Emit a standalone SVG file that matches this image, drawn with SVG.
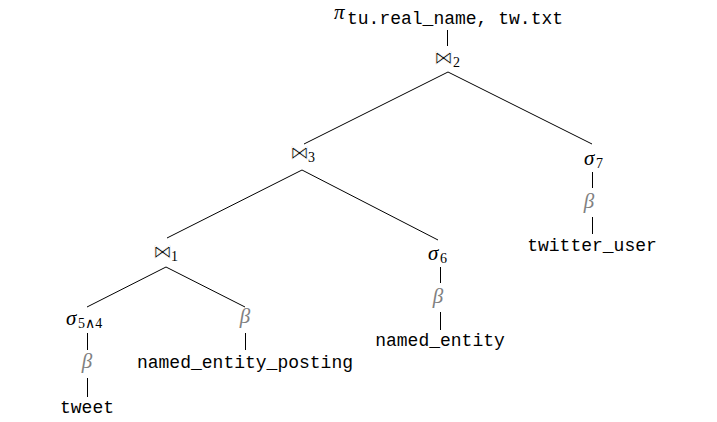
<svg xmlns="http://www.w3.org/2000/svg" width="717" height="422" viewBox="0 0 717 422">
  <style>
    .edge { stroke: #000; stroke-width: 1; fill: none; }
    .tt { font-family: "Liberation Mono", "DejaVu Sans Mono", monospace; font-size: 18px; fill: #000; }
    .op { font-family: "Liberation Serif", "DejaVu Serif", serif; font-style: italic; font-size: 21px; fill: #000; }
    .sub { font-family: "Liberation Serif", "DejaVu Serif", serif; font-size: 14px; fill: #000; }
    /* thin the bowtie glyph a little with a white outline over its fill */
    .join { font-family: "DejaVu Sans", sans-serif; font-size: 19px; fill: #000; stroke: #fff; stroke-width: 0.6px; paint-order: fill stroke; }
    .scan { font-family: "Liberation Serif", "DejaVu Serif", serif; font-style: italic; font-size: 21px; fill: #808080; }
  </style>
  <rect width="717" height="422" fill="#fff"/>

  <!-- tree edges -->
  <g id="connectors" class="edge">
    <path d="M447.5 30 V46"/>
    <path d="M448 72 L304 144"/>
    <path d="M448 72 L592 144"/>
    <path d="M302 170 L167 238"/>
    <path d="M302 170 L438 240"/>
    <path d="M166 267 L87 307"/>
    <path d="M166 267 L245 307"/>
    <path d="M592.5 172 V188"/>
    <path d="M592.5 217 V234"/>
    <path d="M440.5 267 V283"/>
    <path d="M440.5 312 V330"/>
    <path d="M87.5 333 V350"/>
    <path d="M87.5 378 V397"/>
    <path d="M245.5 333 V350"/>
  </g>

  <!-- projection -->
  <g id="projection">
    <text class="op" x="334" y="19" font-size="19">π</text>
    <text class="tt" x="347" y="24">tu.real_name, tw.txt</text>
  </g>

  <!-- joins -->
  <g id="join2">
    <text class="join" x="434" y="64">⋈</text>
    <text class="sub" x="453" y="67">2</text>
  </g>
  <g id="join3">
    <text class="join" x="290" y="159">⋈</text>
    <text class="sub" x="308" y="162">3</text>
  </g>
  <g id="join1">
    <text class="join" x="153" y="258">⋈</text>
    <text class="sub" x="171" y="261">1</text>
  </g>

  <!-- selections -->
  <g id="select7">
    <text class="op" x="584" y="165">σ</text>
    <text class="sub" x="596" y="168">7</text>
  </g>
  <g id="select6">
    <text class="op" x="428" y="260">σ</text>
    <text class="sub" x="440" y="263">6</text>
  </g>
  <g id="select54">
    <text class="op" x="66" y="325">σ</text>
    <text class="sub" x="78" y="328">5∧4</text>
  </g>

  <!-- scans -->
  <g id="scan-twitter-user">
    <text class="scan" x="589" y="208" text-anchor="middle">β</text>
  </g>
  <g id="scan-named-entity">
    <text class="scan" x="438" y="303" text-anchor="middle">β</text>
  </g>
  <g id="scan-posting">
    <text class="scan" x="245" y="323" text-anchor="middle">β</text>
  </g>
  <g id="scan-tweet">
    <text class="scan" x="87" y="368" text-anchor="middle">β</text>
  </g>

  <!-- base relations -->
  <g id="rel-twitter-user">
    <text class="tt" x="592" y="251" text-anchor="middle">twitter_user</text>
  </g>
  <g id="rel-named-entity">
    <text class="tt" x="440" y="346" text-anchor="middle">named_entity</text>
  </g>
  <g id="rel-posting">
    <text class="tt" x="245" y="368" text-anchor="middle">named_entity_posting</text>
  </g>
  <g id="rel-tweet">
    <text class="tt" x="87" y="413" text-anchor="middle">tweet</text>
  </g>
</svg>
